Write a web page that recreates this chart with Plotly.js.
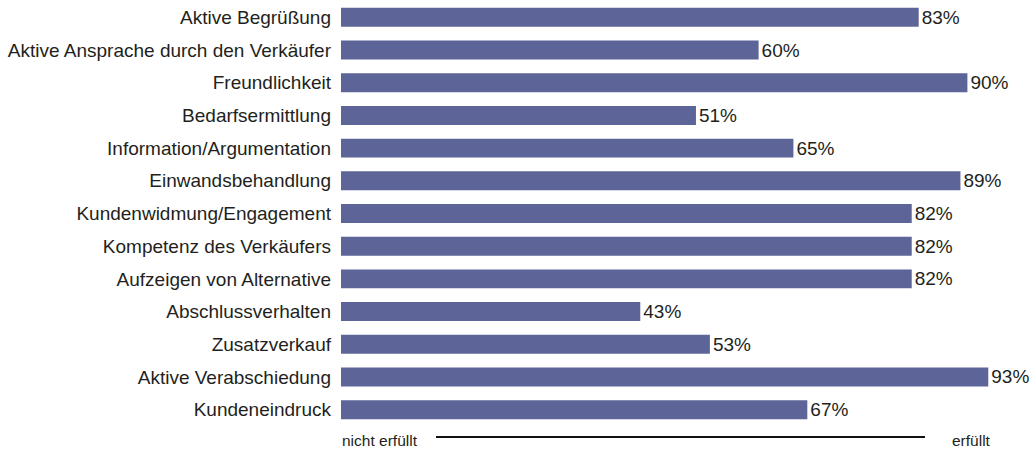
<!DOCTYPE html>
<html>
<head>
<meta charset="utf-8">
<script src="https://cdn.plot.ly/plotly-3.0.1.min.js"></script>
<style>html,body{margin:0;padding:0;background:#fff;}#chart{width:1032px;height:450px;}</style>
</head>
<body>
<div id="chart"></div>
<script>
const categories = [
  "Aktive Begrüßung",
  "Aktive Ansprache durch den Verkäufer",
  "Freundlichkeit",
  "Bedarfsermittlung",
  "Information/Argumentation",
  "Einwandsbehandlung",
  "Kundenwidmung/Engagement",
  "Kompetenz des Verkäufers",
  "Aufzeigen von Alternative",
  "Abschlussverhalten",
  "Zusatzverkauf",
  "Aktive Verabschiedung",
  "Kundeneindruck"
];
const values = [83, 60, 90, 51, 65, 89, 82, 82, 82, 43, 53, 93, 67];
const valueLabels = values.map(v => v + "%");
const axisLabels = ["nicht erfüllt", "erfüllt"];

const L = 341, W = 1032, H = 450, T = 1, B = 24;
const plotW = W - L, plotH = H - T - B;
const py = px => (H - B - px) / plotH;
const pxX = px => (px - L) / plotW;
const FONT = "Liberation Sans, Arial, sans-serif";

const trace = {
  type: "bar",
  orientation: "h",
  y: categories,
  x: values,
  text: valueLabels,
  textposition: "outside",
  constraintext: "none",
  cliponaxis: false,
  textfont: {family: FONT, size: 19, color: "#231f20"},
  marker: {color: "#5d6598", line: {width: 0}},
  hoverinfo: "none"
};

const layout = {
  width: W, height: H,
  margin: {l: L, r: 0, t: T, b: B, pad: 0},
  paper_bgcolor: "#ffffff",
  plot_bgcolor: "#ffffff",
  bargap: 0.42,
  showlegend: false,
  font: {family: FONT, size: 19, color: "#231f20"},
  xaxis: {range: [0, plotW / 6.96], showgrid: false, zeroline: false, showline: false, showticklabels: false, ticks: "", fixedrange: true},
  yaxis: {type: "category", categoryorder: "array", categoryarray: categories, range: [categories.length - 0.5, -0.5],
          showgrid: false, zeroline: false, showline: false, ticks: "", ticklabelstandoff: 9,
          tickfont: {family: FONT, size: 19, color: "#231f20"}, fixedrange: true},
  shapes: [{type: "line", xref: "paper", yref: "paper", x0: pxX(436), x1: pxX(925), y0: py(437), y1: py(437),
            line: {color: "#111111", width: 2}}],
  annotations: [
    {text: axisLabels[0], xref: "paper", yref: "paper", x: pxX(340), y: py(440), xanchor: "left", yanchor: "middle",
     showarrow: false, font: {family: FONT, size: 15.5, color: "#231f20"}},
    {text: axisLabels[1], xref: "paper", yref: "paper", x: pxX(950), y: py(440), xanchor: "left", yanchor: "middle",
     showarrow: false, font: {family: FONT, size: 15.5, color: "#231f20"}}
  ]
};

Plotly.newPlot("chart", [trace], layout, {displayModeBar: false, staticPlot: true});
</script>
</body>
</html>
